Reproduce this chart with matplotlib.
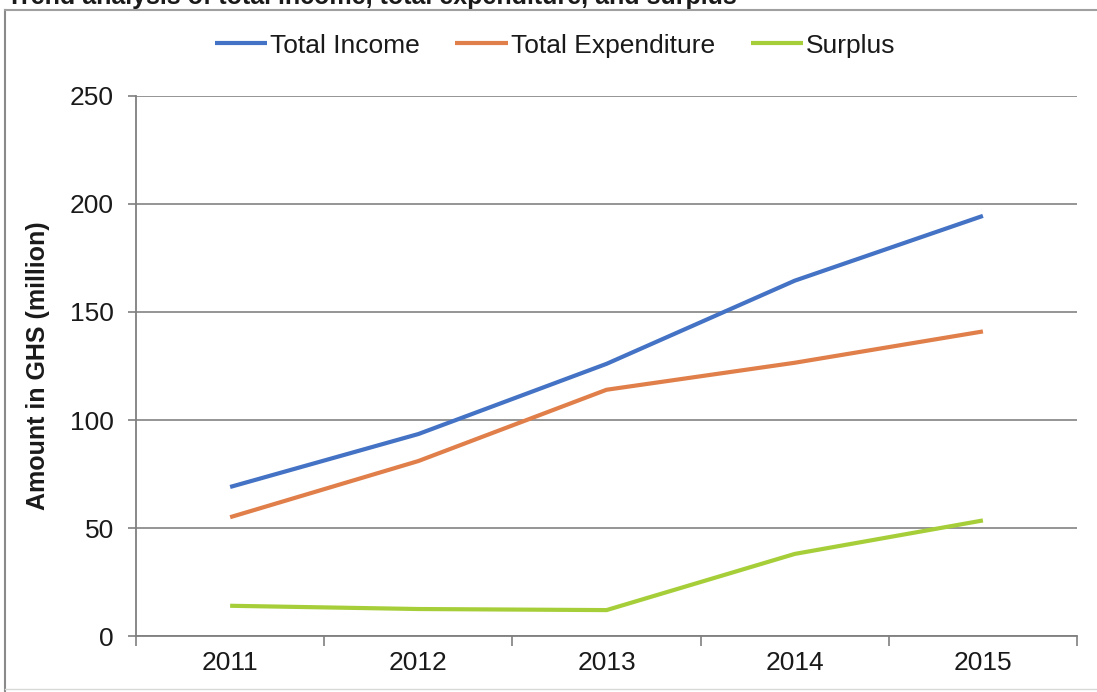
import matplotlib
matplotlib.use("Agg")
import matplotlib.pyplot as plt
from matplotlib.lines import Line2D

# Trend of income, expenditure and surplus, GHS million
years = ["2011", "2012", "2013", "2014", "2015"]
total_income = [69, 93.5, 126, 164.5, 194.5]
total_expenditure = [55, 81, 114, 126.5, 141]
surplus = [14, 12.5, 12, 38, 53.5]

series_names = ["Total Income", "Total Expenditure", "Surplus"]
series_colors = ["#4472C4", "#E07F4A", "#A6CE39"]

y_ticks = [0, 50, 100, 150, 200, 250]

plt.rcParams["font.family"] = ["Liberation Sans", "DejaVu Sans"]
FS = 19

fig = plt.figure(figsize=(10.97, 6.92), dpi=100)
ax = fig.add_axes([0.124, 0.0809, 0.8578, 0.7804])

x = list(range(len(years)))
for vals, name, col in zip([total_income, total_expenditure, surplus],
                           series_names, series_colors):
    ax.plot(x, vals, color=col, linewidth=3.0, label=name,
            solid_capstyle="butt", solid_joinstyle="round")

ax.set_xlim(-0.5, len(years) - 0.5)
ax.set_ylim(0, 250)
ax.set_yticks(y_ticks)
ax.set_yticklabels([str(t) for t in y_ticks], fontsize=FS, color="#1a1a1a")
ax.set_xticks(x)
ax.set_xticklabels(years, fontsize=FS, color="#1a1a1a")
ax.tick_params(axis="x", which="major", length=0, pad=11)
ax.set_xticks([i - 0.5 for i in range(len(years) + 1)], minor=True)
ax.tick_params(axis="x", which="minor", length=7, width=1.2, color="#7f7f7f",
               direction="out")
ax.tick_params(axis="y", length=6, width=1.2, color="#7f7f7f", pad=10)

ax.grid(axis="y", color="#8c8c8c", linewidth=1.3)
ax.set_axisbelow(True)
for side in ["top", "right"]:
    ax.spines[side].set_visible(False)
for side in ["left", "bottom"]:
    ax.spines[side].set_color("#7f7f7f")
    ax.spines[side].set_linewidth(1.3)

ax.set_ylabel("Amount in GHS (million)", fontsize=18, fontweight="bold",
              color="#1a1a1a", labelpad=14)

fig.legend(loc="center", bbox_to_anchor=(0.506, 0.934), ncol=3, frameon=False,
           fontsize=FS, handlelength=2.0, handletextpad=0.1, columnspacing=1.35,
           labelcolor="#1a1a1a")

# outer chart frame and the partly hidden heading above it
fig.add_artist(Line2D([0.0046, 0.0046], [0.0, 0.985], color="#8a8a8a",
                      linewidth=1.5, transform=fig.transFigure))
fig.add_artist(Line2D([0.0046, 1.0], [0.985, 0.985], color="#a0a0a0",
                      linewidth=1.5, transform=fig.transFigure))
fig.add_artist(Line2D([0.0046, 1.0], [0.004, 0.004], color="#d8d8d8",
                      linewidth=1.0, transform=fig.transFigure))
fig.text(0.006, 0.9935, "Trend analysis of total income, total expenditure, and surplus",
         fontsize=18, fontweight="bold", color="#1a1a1a", va="baseline")

fig.savefig("out.png", dpi=100)
